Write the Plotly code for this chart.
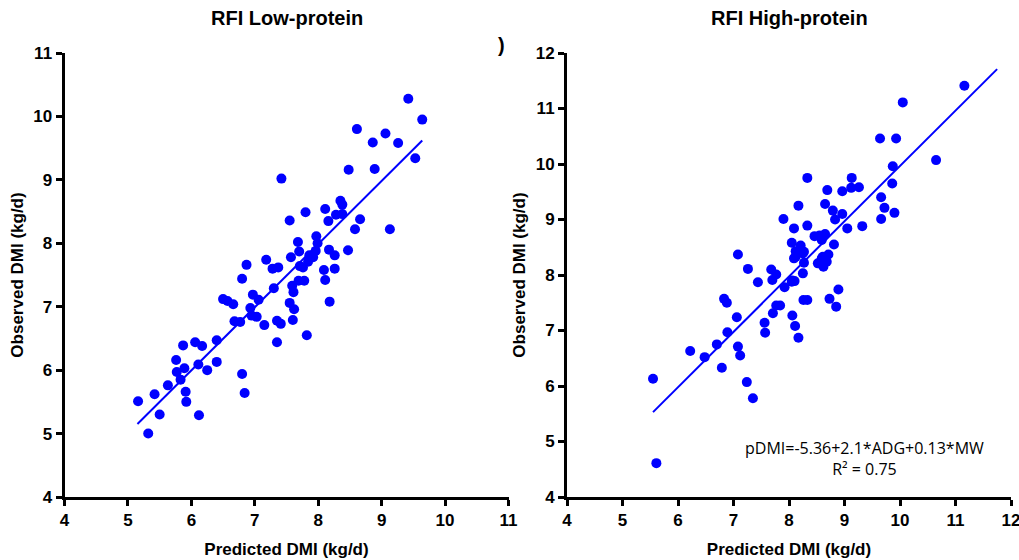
import plotly.graph_objects as go

# ---- Data: RFI Low-protein ----
low_pred = [7.42, 7.55, 7.68, 7.70, 7.18, 7.57, 9.42, 9.64, 8.61, 9.06, 8.86, 9.26, 9.53, 8.48,
            8.89, 7.80, 8.11, 8.35, 8.38, 8.16, 8.28, 8.38, 8.66, 8.58, 9.13, 7.97, 7.99, 7.96,
            8.17, 8.26, 8.47, 7.86, 7.92, 7.84, 6.87, 7.28, 7.37, 6.80, 7.71, 7.69, 7.78, 8.11,
            7.76, 8.09, 8.26, 7.59, 7.61, 7.30, 6.97, 7.06, 6.50, 6.57, 6.66, 6.93, 6.95, 7.03,
            7.55, 7.62, 7.60, 7.15, 7.35, 7.41, 6.68, 6.77, 7.35, 6.40, 6.06, 6.17, 5.87, 5.76,
            6.11, 5.89, 5.77, 5.83, 6.25, 6.40, 5.63, 5.91, 5.92, 6.80, 6.84, 5.42, 5.16, 5.50,
            6.12, 5.32, 8.18, 7.82]
low_obs = [9.02, 8.36, 8.02, 7.87, 7.74, 7.78, 10.28, 9.95, 9.80, 9.73, 9.59, 9.58, 9.34, 9.16,
           9.17, 8.49, 8.54, 8.67, 8.61, 8.35, 8.45, 8.46, 8.38, 8.22, 8.22, 8.11, 8.00, 7.88,
           7.90, 7.81, 7.89, 7.81, 7.78, 7.71, 7.66, 7.60, 7.62, 7.44, 7.64, 7.41, 7.41, 7.42,
           7.62, 7.58, 7.60, 7.33, 7.23, 7.29, 7.19, 7.11, 7.12, 7.09, 7.04, 6.98, 6.86, 6.84,
           7.06, 6.96, 6.79, 6.71, 6.78, 6.73, 6.77, 6.76, 6.44, 6.47, 6.44, 6.38, 6.39, 6.16,
           6.09, 6.03, 5.97, 5.85, 6.00, 6.13, 5.76, 5.66, 5.50, 5.94, 5.64, 5.62, 5.51, 5.30,
           5.29, 5.00, 7.08, 6.55]
low_fit_x = [5.15, 9.64]
low_fit_y = [5.15, 9.62]

# ---- Data: RFI High-protein ----
high_pred = [8.17, 7.90, 8.09, 8.05, 7.08, 8.12, 8.12, 11.16, 10.05, 9.64, 9.93, 10.65, 9.87,
             9.86, 8.33, 9.13, 9.12, 9.26, 8.69, 8.96, 9.66, 9.72, 9.90, 9.66, 8.65, 8.79, 8.96,
             8.83, 8.33, 9.05, 9.32, 8.46, 8.55, 8.65, 8.59, 8.81, 8.21, 8.27, 8.61, 8.71, 7.26,
             7.68, 7.77, 7.70, 7.44, 8.09, 8.06, 8.10, 7.92, 6.83, 6.88, 7.77, 7.71, 7.06, 8.06,
             7.56, 7.57, 8.11, 8.17, 6.89, 6.70, 6.22, 7.08, 7.12, 6.48, 6.79, 5.55, 7.24, 7.35,
             5.61, 8.25, 8.27, 8.59, 8.68, 8.62, 8.52, 8.25, 8.05, 8.89, 8.73, 8.85, 8.26, 8.33,
             7.84]
high_obs = [9.25, 9.01, 8.84, 8.58, 8.37, 8.43, 8.33, 11.41, 11.11, 10.46, 10.46, 10.07, 9.96,
            9.65, 9.75, 9.75, 9.57, 9.58, 9.53, 9.51, 9.40, 9.21, 9.12, 9.01, 9.28, 9.16, 9.10,
            9.00, 8.89, 8.84, 8.88, 8.70, 8.71, 8.74, 8.63, 8.55, 8.53, 8.42, 8.33, 8.37, 8.11,
            8.10, 8.01, 7.91, 7.87, 8.30, 7.90, 7.89, 7.78, 7.57, 7.50, 7.45, 7.31, 7.24, 7.27,
            7.14, 6.96, 7.08, 6.87, 6.97, 6.75, 6.63, 6.71, 6.55, 6.52, 6.33, 6.13, 6.07, 5.78,
            4.61, 8.39, 8.22, 8.30, 8.24, 8.15, 8.21, 8.03, 7.88, 7.74, 7.57, 7.43, 7.55, 7.55,
            7.45]
high_fit_x = [5.55, 11.75]
high_fit_y = [5.53, 11.71]

left_ticks = [4, 5, 6, 7, 8, 9, 10, 11]
right_ticks = [4, 5, 6, 7, 8, 9, 10, 11, 12]

titles = ["RFI Low-protein", "RFI High-protein"]
x_title = "Predicted DMI (kg/d)"
y_title = "Observed DMI (kg/d)"
eq_text = "pDMI=-5.36+2.1*ADG+0.13*MW<br>R² = 0.75"

W, H = 1019, 560
BLUE = "#0000ff"
FONT = "Liberation Sans, Arial, sans-serif"


def px(x):
    return x / W


def py(y):
    return 1 - y / H


fig = go.Figure()
fig.add_trace(go.Scatter(x=low_pred, y=low_obs, mode="markers",
                         marker=dict(color=BLUE, size=10), xaxis="x", yaxis="y", showlegend=False))
fig.add_trace(go.Scatter(x=low_fit_x, y=low_fit_y, mode="lines",
                         line=dict(color=BLUE, width=2), xaxis="x", yaxis="y", showlegend=False))
fig.add_trace(go.Scatter(x=high_pred, y=high_obs, mode="markers",
                         marker=dict(color=BLUE, size=10), xaxis="x2", yaxis="y2", showlegend=False))
fig.add_trace(go.Scatter(x=high_fit_x, y=high_fit_y, mode="lines",
                         line=dict(color=BLUE, width=2), xaxis="x2", yaxis="y2", showlegend=False))

ydom = [py(497), py(53)]
axis_common = dict(showline=True, linecolor="black", linewidth=3, ticks="outside",
                   ticklen=6, tickwidth=3, tickcolor="black", showgrid=False, zeroline=False,
                   tickfont=dict(family=FONT, size=17, color="black", weight="bold"),
                   mirror=False, automargin=False, ticklabeloverflow="allow")
title_font = dict(family=FONT, size=17, color="black", weight="bold")

fig.update_layout(
    width=W, height=H, margin=dict(l=0, r=0, t=0, b=0, autoexpand=False),
    paper_bgcolor="white", plot_bgcolor="white",
    xaxis=dict(domain=[px(64.5), px(508.5)], range=[4, 11], tickvals=left_ticks,
               anchor="y", title=dict(text=x_title, font=title_font, standoff=14), **axis_common),
    yaxis=dict(domain=ydom, range=[4, 11], tickvals=left_ticks, anchor="x",
               title=dict(text=y_title, font=title_font, standoff=6), **axis_common),
    xaxis2=dict(domain=[px(567), px(1011)], range=[4, 12], tickvals=right_ticks,
                anchor="y2", title=dict(text=x_title, font=title_font, standoff=14), **axis_common),
    yaxis2=dict(domain=ydom, range=[4, 12], tickvals=right_ticks, anchor="x2",
                title=dict(text=y_title, font=title_font, standoff=6), **axis_common),
)

title_font_big = dict(family=FONT, size=20, color="black", weight="bold")
fig.add_annotation(text=titles[0], x=px(286.5), y=py(17.5), xref="paper", yref="paper",
                   xanchor="center", yanchor="middle", showarrow=False, font=title_font_big)
fig.add_annotation(text=titles[1], x=px(789), y=py(17.5), xref="paper", yref="paper",
                   xanchor="center", yanchor="middle", showarrow=False, font=title_font_big)
fig.add_annotation(text=")", x=px(501), y=py(45), xref="paper", yref="paper",
                   xanchor="center", yanchor="middle", showarrow=False,
                   font=dict(family=FONT, size=20, color="black", weight="bold"))
fig.add_annotation(text=eq_text, x=px(864), y=py(458.5), xref="paper", yref="paper",
                   xanchor="center", yanchor="middle", showarrow=False, align="center",
                   font=dict(family="Open Sans, sans-serif", size=16, color="black"))

# remove the default 8px page margin so the 1019x560 figure fills the window exactly
fig.write_html("out.html", config={"displayModeBar": False},
               post_script="document.body.style.margin='0';")
